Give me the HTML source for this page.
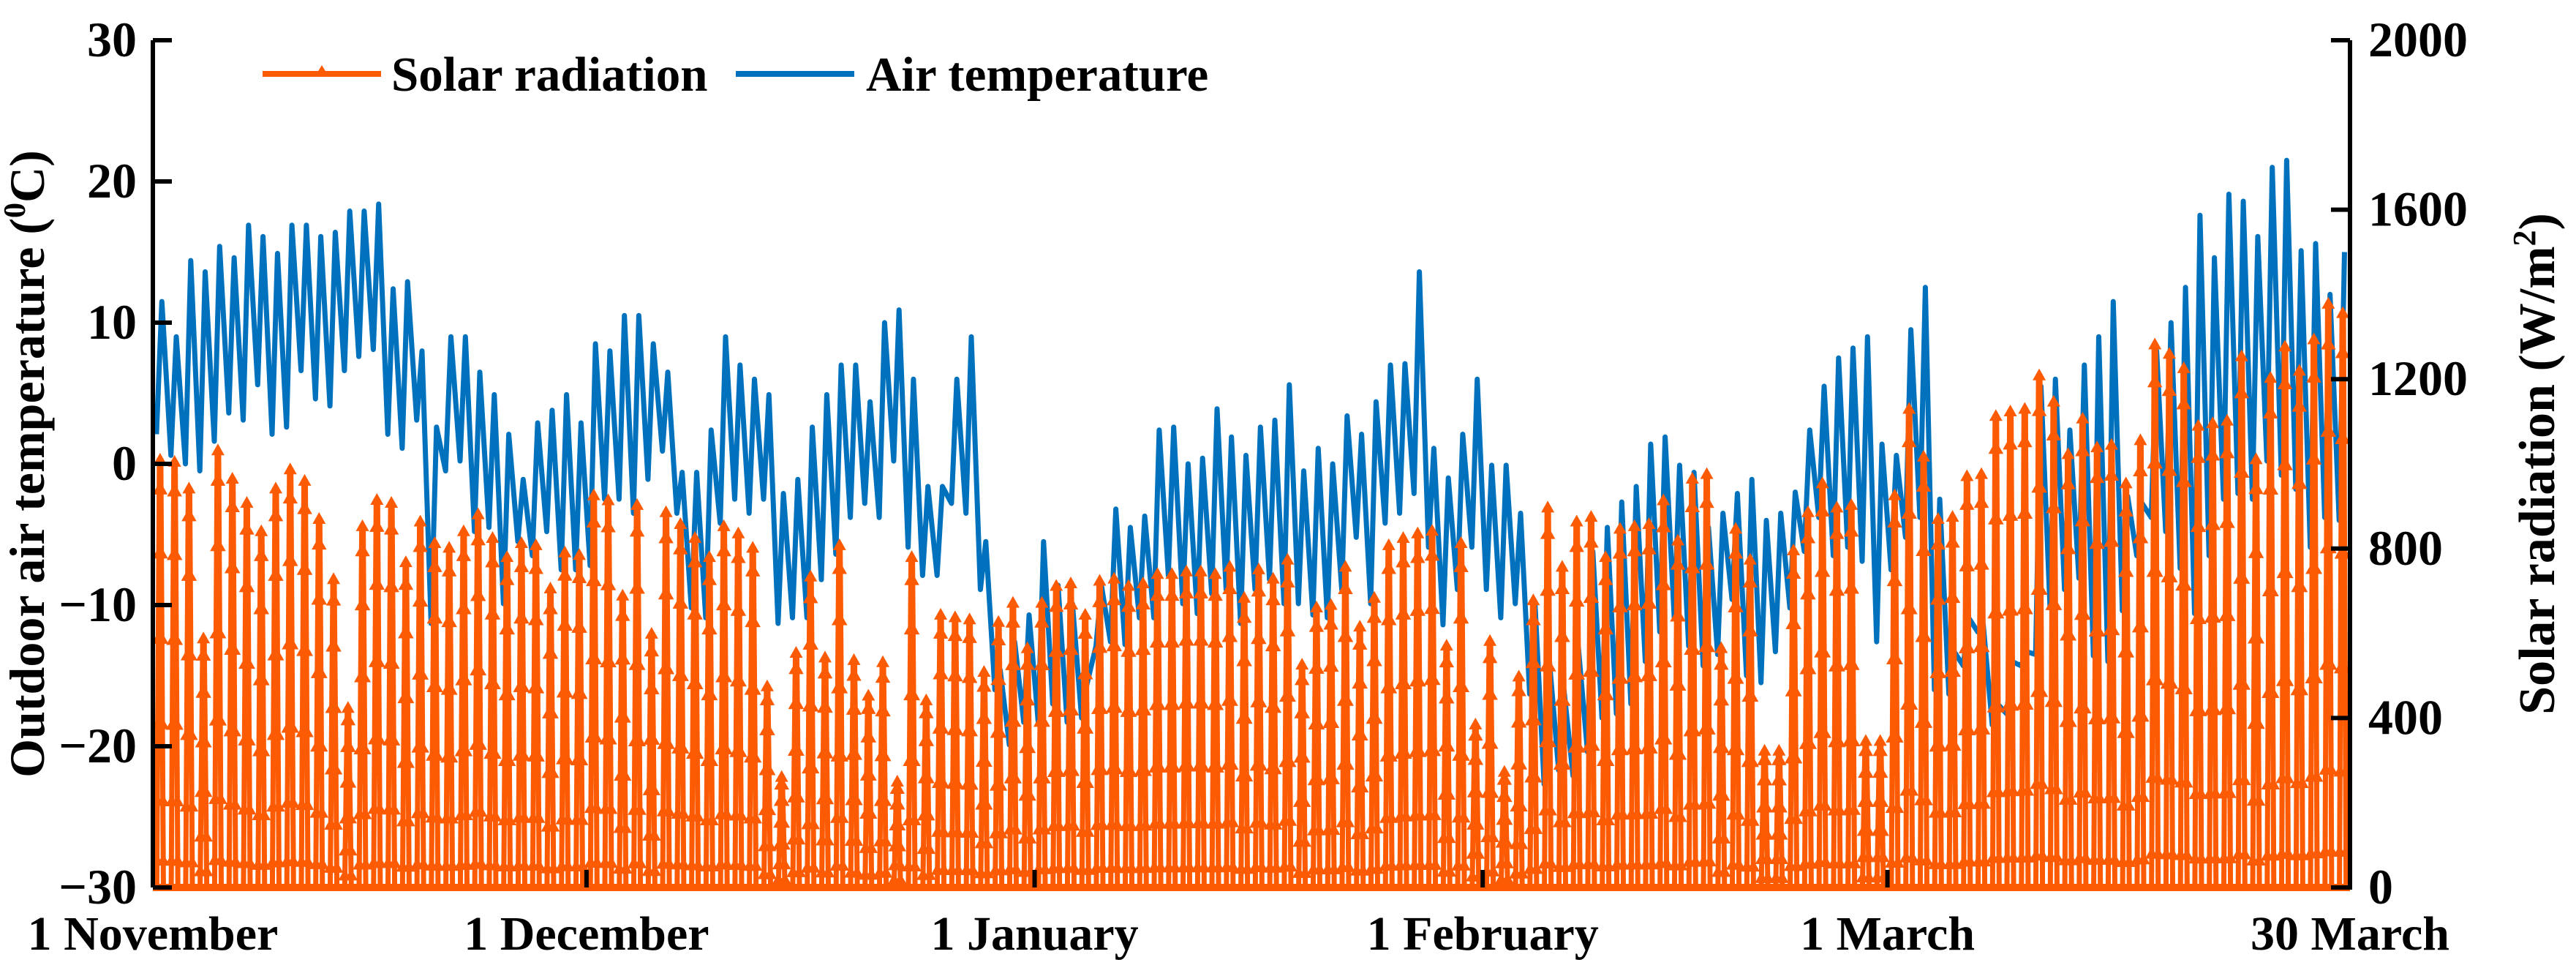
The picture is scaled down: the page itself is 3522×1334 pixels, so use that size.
<!DOCTYPE html>
<html><head><meta charset="utf-8">
<style>
html,body{margin:0;padding:0;background:#fff;}
svg{display:block;}
text{font-family:"Liberation Serif",serif;font-weight:bold;fill:#000;}
</style></head>
<body>
<svg id="chart" width="3522" height="1334" viewBox="0 0 3522 1334" xmlns="http://www.w3.org/2000/svg">
<g id="plot"></g>
<g id="axes"></g>
<g>
  <line x1="359" y1="101" x2="521" y2="101" stroke="#FC5A03" stroke-width="8"/>
  <polygon points="440,89 431,104 449,104" fill="#FC5A03"/>
  <text x="535" y="124" font-size="67">Solar radiation</text>
  <line x1="1006" y1="101" x2="1168" y2="101" stroke="#0072BD" stroke-width="8"/>
  <text x="1184" y="124" font-size="67">Air temperature</text>
</g>
<text transform="translate(60,634) rotate(-90)" text-anchor="middle" font-size="68">Outdoor air temperature (<tspan font-size="42" dy="-26">0</tspan><tspan dy="26">C)</tspan></text>
<text transform="translate(3492,634) rotate(-90)" text-anchor="middle" font-size="70">Solar radiation (W/m<tspan font-size="44" dy="-26">2</tspan><tspan dy="26">)</tspan></text>
</svg>
<script>
const solarPeak = [1007,1002,939,585,1029,962,905,838,939,984,957,867,725,421,850,912,905,765,861,810,799,838,878,822,777,810,805,703,788,782,923,
911,686,900,596,883,855,822,777,850,833,799,472,258,551,731,540,805,534,450,529,247,777,439,641,635,630,506,624,669,562,
669,709,715,641,721,726,709,715,737,737,743,743,737,754,681,748,726,771,523,658,664,754,613,681,805,822,833,839,568,810,382,
579,270,495,675,894,754,861,872,777,844,850,855,911,816,962,973,562,844,771,320,320,793,883,951,894,900,343,343,923,1127,
1014,867,872,968,973,1110,1121,1127,1206,1144,1020,1104,1036,1042,951,1053,1279,1257,1223,1087,1093,1099,1251,1008,1200,1274,1217,1291,1375,1353];
const tempMax = [11.5,9.0,14.4,13.6,15.4,14.6,16.9,16.1,14.9,16.9,16.9,16.1,16.4,17.9,17.9,18.4,12.4,12.9,8.0,2.6,9.0,9.0,6.5,4.9,2.1,-1.1,2.9,3.8,4.9,2.9,
8.5,8.0,10.5,10.5,8.5,6.5,-0.6,-0.6,2.4,9.0,7.0,6.0,4.9,-2.1,-1.1,2.6,4.9,7.0,7.0,4.4,10.0,10.9,6.0,-1.6,-1.6,6.0,9.0,-5.5,-14.6,-12.6,-10.7,
-5.5,-8.6,-9.9,-15.6,-8.6,-3.2,-4.5,-3.7,2.4,2.6,0.0,0.4,3.9,1.9,0.6,2.6,3.1,5.6,-0.5,1.1,0.0,3.4,2.1,4.4,7.0,7.1,13.6,1.1,-1.0,2.1,6.0,
-0.1,-0.1,-3.5,-10,-14,-16,-13,-6.2,-4.5,-2.7,-1.6,1.4,1.9,-0.1,-0.6,-4.5,-3.5,-2.1,-1.1,-4.0,-3.5,-2.0,2.4,5.5,7.5,8.2,9.0,1.4,0.6,9.5,
12.5,-2.5,-13.3,-10.9,-11.3,-17.0,-14.0,-13.3,5.5,6.0,2.4,7.0,9.0,11.5,-2.3,-2.8,8.0,10.0,12.5,17.6,14.6,19.1,18.6,16.1,21.0,21.5,15.1,15.6,12,15];
const tempMin = [2.1,0.6,0.0,-0.5,1.6,3.6,3.1,5.6,2.1,2.6,6.6,4.6,4.1,6.6,7.6,8.1,2.1,1.1,3.1,-11.3,-0.5,0.2,-4.8,-4.5,-9.9,-5.5,-6.5,-4.8,-7.5,-7.5,
-7.2,-2.5,-2.5,-3.5,-1.1,0.9,-3.5,-10.2,-10.9,-4.2,-2.5,-3.5,-2.5,-11.3,-10.9,-10.9,-8.2,-6.4,-3.8,-2.8,-3.8,0.2,-5.9,-7.9,-7.9,-2.8,-3.5,-8.9,-16.0,-19.9,-18.3,
-18.3,-17.0,-18.3,-18.0,-12.9,-12.6,-12.8,-10.9,-10.9,-7.9,-9.9,-10.6,-9.2,-8.9,-11.3,-8.9,-8.2,-9.9,-9.9,-10.7,-10.9,-8.9,-5.2,-9.9,-4.2,-3.5,-2.1,-5.9,-11.4,-8.9,-5.9,
-8.9,-10.9,-9.9,-16.3,-22.7,-21.7,-22.1,-20.4,-18.0,-17.7,-17.0,-14.0,-11.9,-10.9,-12.9,-14.3,-13.5,-9.6,-15,-15.5,-13.3,-10.2,-6.2,-3.8,-6.5,-5.9,-6.9,-12.6,-7.5,-5.2,
-3.8,-16.0,-16.3,-14.3,-11.9,-18.5,-17.7,-14.3,-13.5,-10.2,-8.9,-8.1,-13.6,-14.0,-10.4,-6.5,-3.8,-4.8,-7.4,-10.6,-6.5,-2.5,-2.1,-2.5,0.2,-0.8,-1.8,-5.9,-3.8,-4];
const tempTicks = [30,20,10,0,-10,-20,-30];
const solarTicks = [2000,1600,1200,800,400,0];
const monthLabels = ["1 November","1 December","1 January","1 February","1 March","30 March"];
const monthDays = [0,30,61,92,120,152];

const NS="http://www.w3.org/2000/svg";
const X0=209, X1=3213, Y0=55, Y1=1213;
const N=solarPeak.length;
function x(d){return X0+d*(X1-X0)/N;}
function yT(t){return Y1-(t+30)/60*(Y1-Y0);}
function yS(s){return Y1-s/2000*(Y1-Y0);}
function mk(tag,attrs,parent){const e=document.createElementNS(NS,tag);for(const k in attrs)e.setAttribute(k,attrs[k]);parent.appendChild(e);return e;}
const plot=document.getElementById('plot'), axes=document.getElementById('axes');

// temperature line
let tp=[];
for(let d=0;d<tempMax.length;d++){
  tp.push(x(d+0.25).toFixed(1)+','+yT(tempMin[d]).toFixed(1));
  tp.push(x(d+0.62).toFixed(1)+','+yT(tempMax[d]).toFixed(1));
}
const tl=mk('polyline',{points:tp.join(' '),fill:'none',stroke:'#0072BD','stroke-width':7,'stroke-linejoin':'round'},plot);



// solar line
let sp=[x(0).toFixed(1)+','+yS(0)];
for(let d=0;d<N;d++){
  sp.push(x(d+0.27).toFixed(1)+','+yS(0));
  sp.push(x(d+0.45).toFixed(1)+','+yS(solarPeak[d]).toFixed(1));
  sp.push(x(d+0.55).toFixed(1)+','+yS(solarPeak[d]).toFixed(1));
  sp.push(x(d+0.73).toFixed(1)+','+yS(0));
}
sp.push(x(N).toFixed(1)+','+yS(0));
const sl=mk('polyline',{points:sp.join(' '),fill:'none',stroke:'#FC5A03','stroke-width':7,'stroke-linejoin':'miter'},plot);


const bl=mk('line',{x1:X0,y1:Y1,x2:X1,y2:Y1,stroke:'#FC5A03','stroke-width':10},plot);


const mg=mk('g',{fill:'#FC5A03'},plot);


const fr=[0.06,0.2,0.38,0.58,0.78,0.93];
for(let d=0;d<N;d++){
  const s=solarPeak[d];
  let pts=[[x(d+0.5),yS(s)]];
  for(const f of fr){
    const dx=0.05+(1-f)*0.18;
    pts.push([x(d+0.5-dx),yS(s*f)]);
    pts.push([x(d+0.5+dx),yS(s*f)]);
  }
  for(const p of pts){
    const m=mk('polygon',{points:`${p[0]},${p[1]-11} ${p[0]-9},${p[1]+5} ${p[0]+9},${p[1]+5}`},mg);
    
    
  }
}

// axes
const la=mk('line',{x1:X0,y1:Y0,x2:X0,y2:Y1,stroke:'#000','stroke-width':6},axes);


const ra=mk('line',{x1:X1,y1:Y0,x2:X1,y2:Y1+3,stroke:'#000','stroke-width':6},axes);


for(const t of tempTicks){
  const y=yT(t);
  const tk=mk('line',{x1:X0,y1:y,x2:X0+26,y2:y,stroke:'#000','stroke-width':6},axes);
  
  
  const tx=mk('text',{x:X0-22,y:y+22,'text-anchor':'end','font-size':68},axes);
  tx.textContent=t<0?'\u2212'+Math.abs(t):String(t);
  
  
}
for(const s of solarTicks){
  const y=yS(s);
  const tk=mk('line',{x1:X1-26,y1:y,x2:X1,y2:y,stroke:'#000','stroke-width':6},axes);
  
  
  const tx=mk('text',{x:X1+25,y:y+22,'text-anchor':'start','font-size':68},axes);
  tx.textContent=String(s);
  
  
}
for(let i=0;i<monthLabels.length;i++){
  let xx=x(monthDays[i]); if(xx>X1) xx=X1;
  const tk=mk('line',{x1:xx,y1:Y1,x2:xx,y2:Y1-24,stroke:'#000','stroke-width':6},axes);
  
  
  const tx=mk('text',{x:xx,y:1298,'text-anchor':'middle','font-size':66},axes);
  tx.textContent=monthLabels[i];
  
  
}
</script>
</body></html>
